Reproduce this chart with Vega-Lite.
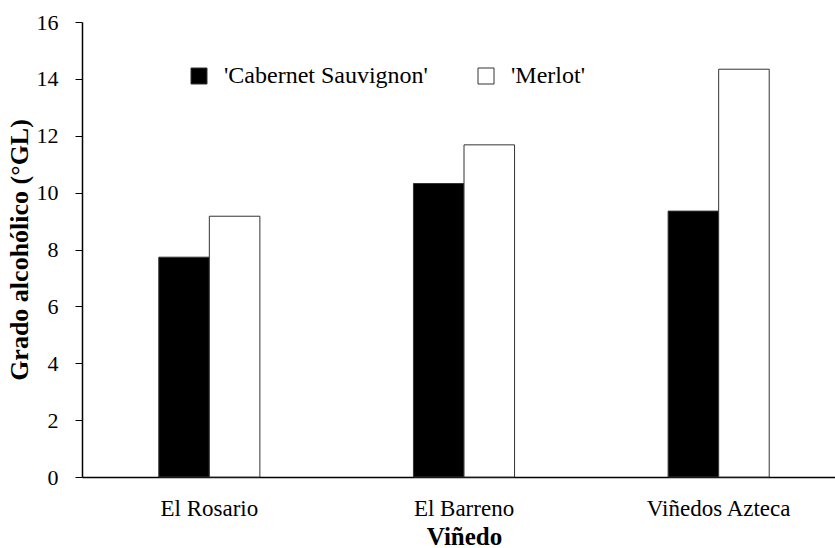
{
  "$schema": "https://vega.github.io/schema/vega-lite/v6.json",
  "width": 764,
  "height": 455,
  "autosize": "none",
  "padding": {"left": 82, "top": 22, "right": 0, "bottom": 71},
  "background": "white",
  "config": {
    "view": {"stroke": null},
    "font": "Liberation Serif"
  },
  "data": {
    "values": [
      {"vinedo": "El Rosario", "variedad": "'Cabernet Sauvignon'", "grado": 7.73},
      {"vinedo": "El Rosario", "variedad": "'Merlot'", "grado": 9.17},
      {"vinedo": "El Barreno", "variedad": "'Cabernet Sauvignon'", "grado": 10.32},
      {"vinedo": "El Barreno", "variedad": "'Merlot'", "grado": 11.68},
      {"vinedo": "Viñedos Azteca", "variedad": "'Cabernet Sauvignon'", "grado": 9.35},
      {"vinedo": "Viñedos Azteca", "variedad": "'Merlot'", "grado": 14.34}
    ]
  },
  "mark": {"type": "bar", "stroke": "#333333", "strokeWidth": 1},
  "encoding": {
    "x": {
      "field": "vinedo",
      "type": "nominal",
      "sort": ["El Rosario", "El Barreno", "Viñedos Azteca"],
      "scale": {"paddingInner": 0.603, "paddingOuter": 0.3015},
      "axis": {
        "title": "Viñedo",
        "titleFont": "Liberation Serif",
        "titleFontSize": 25,
        "titleFontWeight": "bold",
        "titleColor": "black",
        "titlePadding": 4,
        "labelAngle": 0,
        "labelFont": "Liberation Serif",
        "labelFontSize": 23,
        "labelColor": "black",
        "labelPadding": 20,
        "ticks": false,
        "domainColor": "black",
        "domainWidth": 1.5
      }
    },
    "xOffset": {
      "field": "variedad",
      "type": "nominal",
      "sort": ["'Cabernet Sauvignon'", "'Merlot'"],
      "scale": {"paddingInner": 0, "paddingOuter": 0}
    },
    "y": {
      "field": "grado",
      "type": "quantitative",
      "scale": {"domain": [0, 16], "nice": false},
      "axis": {
        "title": "Grado alcohólico (°GL)",
        "titleFont": "Liberation Serif",
        "titleFontSize": 26,
        "titleFontWeight": "bold",
        "titleColor": "black",
        "titlePadding": 4,
        "values": [0, 2, 4, 6, 8, 10, 12, 14, 16],
        "grid": false,
        "labelFont": "Liberation Serif",
        "labelFontSize": 22,
        "labelColor": "black",
        "labelPadding": 17,
        "tickSize": 7,
        "tickColor": "black",
        "domainColor": "black",
        "domainWidth": 1.5
      }
    },
    "fill": {
      "field": "variedad",
      "type": "nominal",
      "sort": ["'Cabernet Sauvignon'", "'Merlot'"],
      "scale": {"range": ["black", "white"]},
      "legend": {
        "title": null,
        "orient": "none",
        "legendX": 105,
        "legendY": 42,
        "direction": "horizontal",
        "symbolType": "square",
        "symbolSize": 256,
        "symbolStrokeColor": "#333333",
        "symbolStrokeWidth": 1,
        "labelFont": "Liberation Serif",
        "labelFontSize": 24,
        "labelColor": "black",
        "labelOffset": 13,
        "labelLimit": 500,
        "columnPadding": 46
      }
    }
  }
}
